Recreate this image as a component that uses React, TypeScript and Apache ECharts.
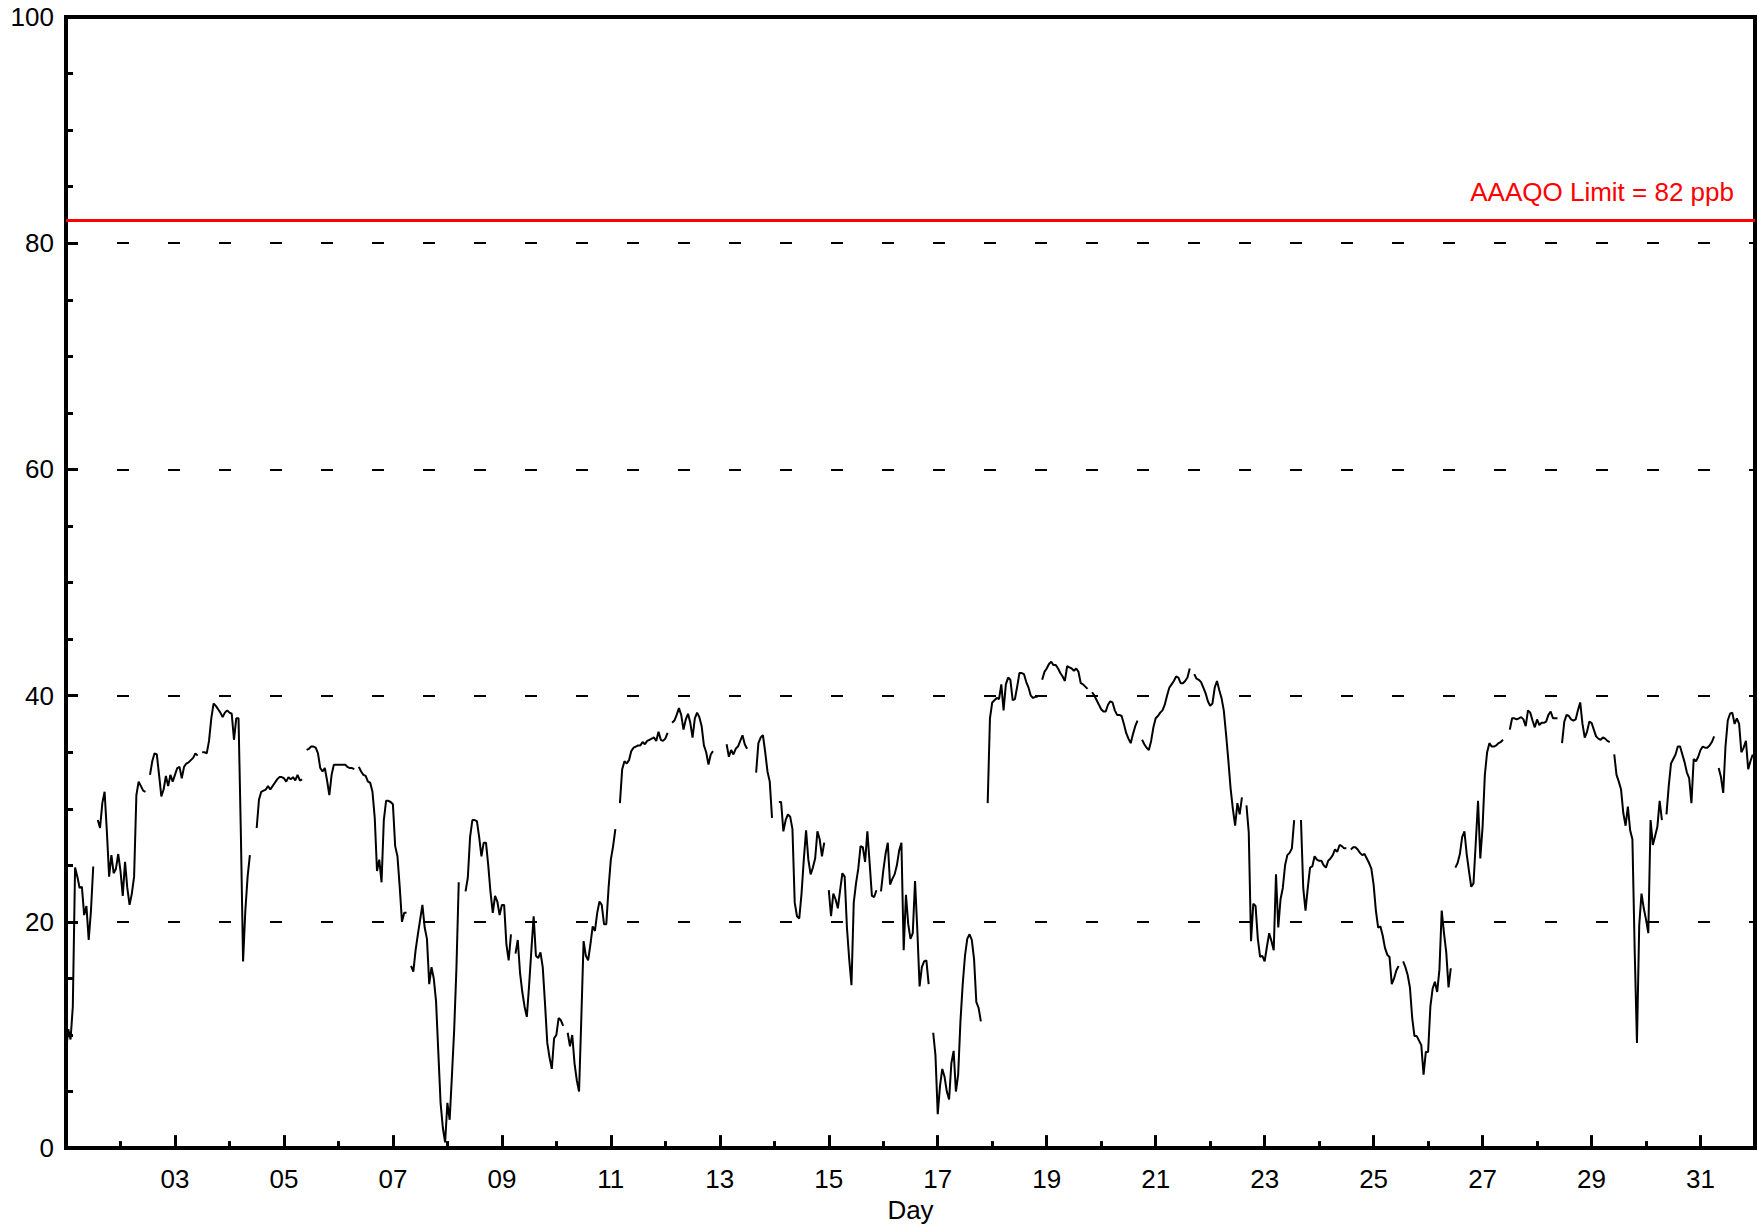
import React, { useEffect, useRef } from 'react';
import * as echarts from 'echarts';

const _ = null;

// Hourly ozone (ppb), one array per day, 24 hourly values each (null = missing)
const day01 = [8.5, 10.5, 9.6, 12.5, 24.8, 24.0, 23.0, 23.1, 20.6, 21.4, 18.4, 21.0, 24.9, _, 29.0, 28.3, 30.5, 31.5, 28.0, 24.0, 25.9, 24.3, 24.7, 26.0];
const day02 = [24.5, 22.3, 25.3, 23.0, 21.5, 22.5, 24.0, 31.2, 32.4, 32.0, 31.6, 31.5, _, 33.0, 34.2, 34.9, 34.8, 33.0, 31.1, 31.7, 32.9, 32.0, 33.0, 32.4];
const day03 = [33.0, 33.6, 33.7, 32.7, 33.7, 34.0, 34.1, 34.3, 34.5, 34.9, 34.7, _, 35.0, 35.0, 34.9, 36.0, 38.0, 39.3, 39.1, 38.8, 38.5, 38.1, 38.5, 38.7];
const day04 = [38.5, 38.4, 36.1, 38.0, 38.0, 28.1, 16.5, 21.0, 24.0, 25.9, _, _, 28.3, 30.8, 31.5, 31.6, 31.7, 32.0, 31.7, 32.0, 32.3, 32.6, 32.8, 32.8];
const day05 = [32.7, 32.4, 32.8, 32.6, 32.8, 32.5, 33.0, 32.5, 32.6, _, 35.2, 35.3, 35.5, 35.5, 35.4, 34.9, 33.6, 33.3, 33.6, 32.5, 31.2, 33.0, 33.9, 33.9];
const day06 = [33.9, 33.9, 33.9, 33.9, 33.7, 33.6, 33.6, 33.5, _, 33.7, 33.3, 33.0, 32.9, 32.4, 32.3, 31.5, 29.2, 24.5, 25.5, 23.5, 29.0, 30.7, 30.7, 30.6];
const day07 = [30.4, 26.7, 25.8, 23.1, 20.0, 20.8, 20.8, _, 16.1, 15.6, 17.5, 18.9, 20.2, 21.5, 19.5, 18.5, 14.5, 16.0, 15.0, 13.0, 8.5, 4.0, 1.8, 0.5];
const day08 = [4.0, 2.5, 6.4, 10.5, 16.0, 23.5, _, _, 22.7, 23.9, 27.5, 29.0, 29.0, 28.9, 27.5, 25.8, 27.0, 27.0, 25.0, 22.6, 20.8, 22.3, 21.8, 20.6];
const day09 = [21.5, 21.5, 18.0, 16.6, 18.9, _, 17.2, 18.4, 15.5, 13.8, 12.5, 11.6, 14.4, 17.5, 20.5, 17.0, 16.8, 17.3, 16.0, 12.8, 9.3, 8.0, 7.0, 9.7];
const day10 = [10.0, 11.5, 11.3, 10.8, _, 10.2, 9.0, 10.0, 7.5, 6.0, 5.0, 11.5, 18.3, 17.0, 16.6, 18.0, 19.6, 19.2, 20.8, 21.8, 21.5, 19.8, 19.8, 23.0];
const day11 = [25.5, 26.7, 28.2, _, 30.5, 33.5, 34.2, 34.0, 34.3, 35.1, 35.4, 35.5, 35.6, 35.6, 35.9, 35.7, 36.0, 36.1, 36.2, 36.3, 36.0, 36.8, 36.1, 36.0];
const day12 = [36.2, 36.7, _, 37.6, 37.8, 38.3, 38.9, 38.3, 37.0, 37.9, 38.4, 37.6, 36.3, 38.0, 38.5, 38.1, 37.3, 35.6, 35.0, 33.9, 34.8, 35.1, _, _];
const day13 = [_, _, _, 35.7, 34.6, 35.2, 34.8, 35.3, 35.5, 36.0, 36.5, 35.7, 35.3, _, _, _, 33.2, 35.8, 36.3, 36.5, 35.0, 33.3, 32.4, 29.2];
const day14 = [_, _, 30.6, 30.6, 28.0, 29.0, 29.5, 29.3, 28.2, 21.7, 20.5, 20.3, 22.5, 25.5, 28.1, 25.5, 24.2, 24.8, 25.6, 28.0, 27.3, 25.8, 27.0, _];
const day15 = [22.8, 20.5, 22.5, 22.0, 21.2, 22.8, 24.3, 24.0, 19.5, 16.7, 14.4, 21.7, 23.4, 24.7, 26.7, 26.6, 25.3, 28.0, 25.2, 22.3, 22.2, 22.8, _, 22.7];
const day16 = [24.5, 26.0, 27.0, 23.3, 23.8, 24.2, 25.0, 26.3, 27.0, 17.5, 22.4, 19.8, 18.5, 19.0, 23.6, 19.3, 14.3, 16.0, 16.5, 16.6, 14.5, _, 10.2, 8.2];
const day17 = [3.0, 5.5, 7.0, 6.3, 5.0, 4.3, 7.5, 8.6, 5.0, 6.5, 11.2, 14.5, 17.0, 18.5, 18.9, 18.4, 16.7, 12.9, 12.4, 11.2, _, _, 30.5, 38.0];
const day18 = [39.4, 39.6, 39.8, 39.7, 41.0, 38.7, 41.0, 41.6, 41.4, 39.6, 39.7, 40.8, 42.0, 42.0, 41.9, 41.2, 40.7, 40.0, 39.8, 39.9, 39.9, _, 41.4, 42.1];
const day19 = [42.4, 42.8, 43.0, 42.7, 42.7, 42.4, 42.0, 41.7, 41.3, 42.6, 42.5, 42.4, 42.2, 42.4, 42.1, 41.1, 41.0, 40.8, 40.6, _, 40.3, 40.0, 39.6, 39.2];
const day20 = [38.8, 38.6, 38.6, 39.2, 39.5, 39.4, 38.7, 38.3, 38.3, 38.2, 37.5, 36.7, 36.2, 35.8, 36.6, 37.3, 37.8, _, 36.1, 35.7, 35.4, 35.2, 36.0, 37.2];
const day21 = [38.0, 38.2, 38.5, 38.7, 39.2, 40.0, 40.7, 41.0, 41.3, 41.7, 41.6, 41.1, 41.1, 41.3, 41.6, 42.4, _, 41.9, 41.5, 41.4, 41.2, 40.7, 40.2, 39.5];
const day22 = [39.1, 39.3, 40.7, 41.3, 40.5, 39.8, 38.7, 36.6, 34.3, 31.8, 30.0, 28.5, 30.5, 29.5, 31.0, _, 30.3, 27.9, 18.3, 21.6, 21.4, 18.5, 16.9, 17.0];
const day23 = [16.5, 17.8, 19.0, 18.3, 17.5, 24.2, 19.5, 22.0, 23.0, 25.0, 25.9, 26.1, 26.5, 29.0, _, _, 29.0, 23.0, 21.0, 23.0, 24.8, 24.9, 25.8, 25.5];
const day24 = [25.4, 25.4, 25.0, 24.8, 25.4, 25.6, 25.9, 26.4, 26.2, 26.8, 26.7, 26.5, 26.5, _, 26.4, 26.6, 26.6, 26.4, 26.1, 25.9, 26.0, 25.6, 25.2, 24.7];
const day25 = [23.3, 21.0, 19.5, 19.6, 18.8, 17.7, 17.1, 16.9, 14.5, 15.0, 15.7, 16.1, _, 16.5, 16.0, 15.3, 14.2, 11.5, 9.9, 9.9, 9.5, 9.1, 6.5, 8.5];
const day26 = [8.5, 12.5, 14.1, 14.7, 13.8, 15.8, 21.0, 19.0, 17.3, 14.2, 15.9, _, 24.8, 25.2, 26.0, 27.5, 28.0, 26.0, 24.5, 23.1, 23.4, 27.0, 30.7, 25.6];
const day27 = [28.4, 33.0, 35.0, 35.8, 35.5, 35.5, 35.6, 35.8, 35.9, 36.1, _, _, 37.0, 38.0, 38.0, 37.9, 38.0, 38.1, 37.9, 37.3, 38.7, 38.5, 37.8, 37.2];
const day28 = [37.9, 37.4, 37.6, 37.6, 37.7, 38.3, 38.6, 38.0, 38.0, 38.0, _, 35.8, 37.7, 38.3, 38.2, 37.9, 37.8, 37.9, 38.7, 39.4, 37.5, 36.3, 36.8, 37.7];
const day29 = [37.6, 37.0, 36.4, 36.2, 36.1, 36.3, 36.2, 36.0, 35.9, _, 34.8, 33.0, 32.4, 31.7, 29.6, 28.5, 30.2, 28.1, 27.3, 17.5, 9.3, 19.7, 22.5, 21.2];
const day30 = [20.2, 19.0, 29.0, 26.8, 27.6, 28.4, 30.7, 29.0, _, 29.5, 32.0, 34.0, 34.4, 34.8, 35.5, 35.5, 34.8, 34.1, 33.2, 32.7, 30.5, 34.4, 34.2, 34.6];
const day31 = [35.2, 35.5, 35.4, 35.4, 35.6, 35.9, 36.4, _, 33.6, 32.8, 31.4, 35.5, 37.8, 38.4, 38.5, 37.5, 38.0, 37.5, 35.0, 35.4, 36.0, 33.5, 34.2, 34.8];

const days = [day01, day02, day03, day04, day05, day06, day07, day08, day09, day10,
  day11, day12, day13, day14, day15, day16, day17, day18, day19, day20,
  day21, day22, day23, day24, day25, day26, day27, day28, day29, day30, day31];

const HOURS_PER_DAY = 24;
const TOTAL_HOURS = days.length * HOURS_PER_DAY; // 744
const ozone = days.flat();

const yMin = 0;
const yMax = 100;
const yInterval = 20;
const limitValue = 82;
const limitLabel = 'AAAQO Limit = 82 ppb';
const xAxisTitle = 'Day';

const FONT = "'Liberation Sans', Arial, Helvetica, sans-serif";

export default function App() {
  const ref = useRef<HTMLDivElement>(null);

  useEffect(() => {
    if (!ref.current) return;
    const chart = echarts.init(ref.current, null, { renderer: 'svg' });
    const seriesData = ozone.map((v, i) => [i, v === null ? null : v]);

    chart.setOption({
      animation: false,
      backgroundColor: '#ffffff',
      grid: {
        left: 66,
        top: 17,
        right: 2,
        bottom: 79,
        show: true,
        borderColor: '#000',
        borderWidth: 4,
        backgroundColor: 'transparent',
      },
      xAxis: [
        {
          type: 'value',
          min: 0,
          max: TOTAL_HOURS,
          interval: HOURS_PER_DAY * 2,
          position: 'bottom',
          name: xAxisTitle,
          nameLocation: 'middle',
          nameGap: 48,
          nameTextStyle: { color: '#000', fontSize: 26, fontFamily: FONT },
          axisLine: { show: true, lineStyle: { color: '#000', width: 4 } },
          axisTick: { show: true, inside: true, length: 13, lineStyle: { color: '#000', width: 3 } },
          minorTick: { show: false },
          splitLine: { show: false },
          axisLabel: {
            show: true,
            margin: 18,
            color: '#000',
            fontSize: 26,
            fontFamily: FONT,
            showMaxLabel: false,
            formatter: (v: number) => {
              if (v <= 0 || v >= TOTAL_HOURS) return '';
              const d = Math.round(v / HOURS_PER_DAY) + 1;
              return d < 10 ? '0' + d : String(d);
            },
          },
        },
        {
          type: 'value',
          min: 0,
          max: TOTAL_HOURS,
          interval: HOURS_PER_DAY,
          position: 'bottom',
          axisLine: { show: false },
          axisTick: { show: true, inside: true, length: 7, lineStyle: { color: '#000', width: 3 } },
          axisLabel: { show: false },
          splitLine: { show: false },
        },
      ],
      yAxis: {
        type: 'value',
        min: yMin,
        max: yMax,
        interval: yInterval,
        axisLine: { show: true, lineStyle: { color: '#000', width: 4 } },
        axisTick: { show: true, inside: true, length: 12, lineStyle: { color: '#000', width: 3 } },
        minorTick: { show: true, splitNumber: 4, length: 7, lineStyle: { color: '#000', width: 3 } },
        splitLine: { show: true, lineStyle: { color: '#000', width: 2, type: [12, 39] } },
        axisLabel: { margin: 12, color: '#000', fontSize: 26, fontFamily: FONT },
      },
      series: [
        {
          type: 'line',
          xAxisIndex: 0,
          yAxisIndex: 0,
          data: seriesData,
          showSymbol: false,
          symbol: 'none',
          connectNulls: false,
          lineStyle: { color: '#000', width: 2 },
          itemStyle: { color: '#000' },
          z: 3,
          markLine: {
            silent: true,
            symbol: ['none', 'none'],
            animation: false,
            lineStyle: { color: '#ff0000', width: 3, type: 'solid' },
            label: {
              show: true,
              position: 'insideEndTop',
              formatter: limitLabel,
              color: '#ff0000',
              fontSize: 26,
              fontFamily: FONT,
              distance: [21, 16],
            },
            data: [{ yAxis: limitValue }],
          },
        },
      ],
    });

    return () => chart.dispose();
  }, []);

  return (
    <div
      ref={ref}
      style={{ position: 'fixed', left: 0, top: 0, width: 1757, height: 1228, background: '#fff' }}
    />
  );
}
